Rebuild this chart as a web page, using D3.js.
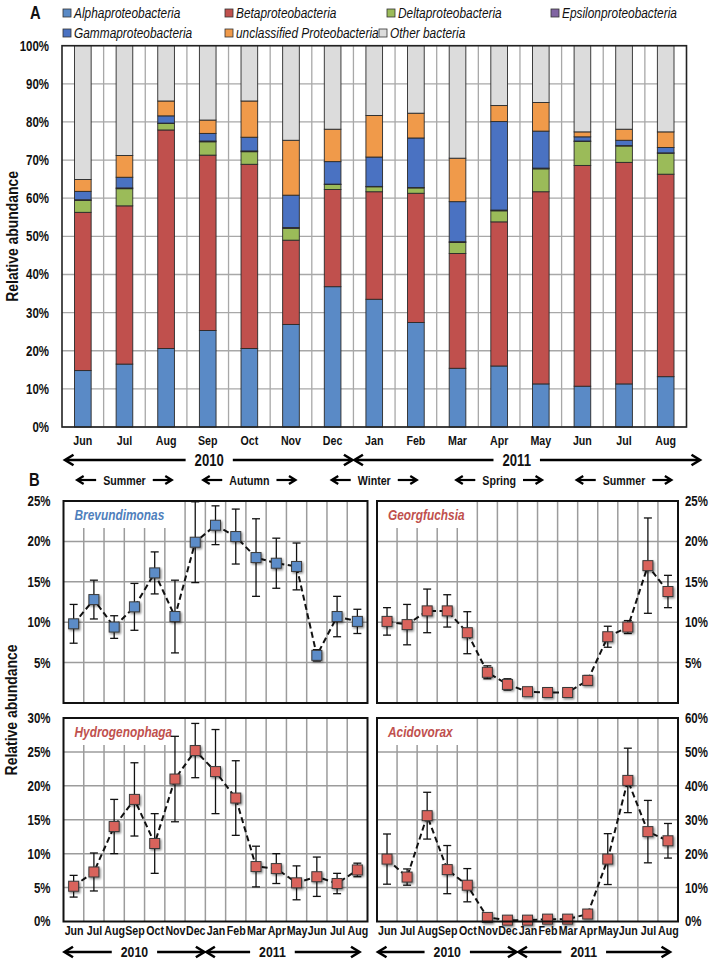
<!DOCTYPE html>
<html><head><meta charset="utf-8">
<script src="https://cdn.jsdelivr.net/npm/d3@7"></script>
<style>body{margin:0;background:#fff} svg{display:block}</style>
</head><body><svg id="c" width="716" height="962"></svg>
<script>
// ---------------- DATA ----------------
const months = ["Jun","Jul","Aug","Sep","Oct","Nov","Dec","Jan","Feb","Mar","Apr","May","Jun","Jul","Aug"];
const seriesNames = ["Alphaproteobacteria","Betaproteobacteria","Deltaproteobacteria","Epsilonproteobacteria","Gammaproteobacteria","unclassified Proteobacteria","Other bacteria"];
const seriesColors = ["#5a8ac6","#c0504d","#9bbb59","#8064a2","#4a72c2","#f09a4a","#dcdcdc"];
const alphaP   = [14.8,16.5,20.6,25.3,20.6,26.9,36.8,33.5,27.4,15.4,16.0,11.3,10.7,11.3,13.2];
const betaP    = [41.5,41.5,57.3,46.0,48.3,22.1,25.5,28.2,33.9,30.1,37.8,50.4,57.9,58.1,53.1];
const deltaP   = [3.1,4.5,1.7,3.5,3.3,3.1,1.3,1.3,1.4,2.9,2.9,6.0,6.3,4.3,5.5];
const epsilonP = [0.2,0.2,0.1,0.2,0.2,0.2,0.1,0.1,0.1,0.2,0.2,0.2,0.1,0.1,0.1];
const gammaP   = [2.2,2.8,1.9,2.0,3.6,8.5,5.9,7.7,13.0,10.5,23.2,9.7,1.1,1.4,1.4];
const unclP    = [3.1,5.7,3.9,3.5,9.5,14.4,8.5,10.9,6.5,11.4,4.2,7.5,1.3,2.9,4.1];
const otherP   = [35.1,28.8,14.5,19.5,14.5,24.8,21.9,18.3,17.7,29.5,15.7,14.9,22.6,21.9,22.6];
const tickValsA   = [0,10,20,30,40,50,60,70,80,90,100];
const tickLabelsA = ["0%","10%","20%","30%","40%","50%","60%","70%","80%","90%","100%"];
const yearsA = ["2010","2011"];
const seasons = ["Summer","Autumn","Winter","Spring","Summer"];

const brevMean  = [9.8,12.8,9.4,11.9,16.1,10.7,19.9,22.0,20.6,18.0,17.3,16.9,5.9,10.7,10.1];
const brevSd    = [2.4,2.4,1.4,2.9,2.6,4.5,5.0,2.4,3.4,4.8,3.1,2.9,0.7,2.5,1.5];
const georgMean = [10.1,9.7,11.4,11.4,8.7,3.8,2.3,1.4,1.3,1.3,2.8,8.2,9.4,17.0,13.8];
const georgSd   = [1.7,2.5,2.7,2.0,2.6,0.8,0.7,0.3,0.3,0.3,0.6,1.3,0.8,5.9,2.0];
const hydroMean = [5.2,7.3,14.0,18.0,11.5,21.0,25.2,22.1,18.2,8.1,7.8,5.7,6.6,5.6,7.6];
const hydroSd   = [1.6,2.8,4.0,5.4,4.4,6.3,4.0,6.2,5.5,3.0,2.2,2.5,2.9,1.5,1.0];
const acidoMean = [18.4,13.1,31.2,15.3,10.7,1.2,0.4,0.4,0.7,0.7,2.2,18.4,41.6,26.5,23.8];
const acidoSd   = [7.4,2.4,6.9,7.1,4.9,0.5,0.2,0.2,0.3,0.3,1.2,7.5,9.5,9.2,5.1];
const ticksTop  = [5,10,15,20,25];
const ticksHydro= [0,5,10,15,20,25,30];
const ticksAcido= [0,10,20,30,40,50,60];

// ---------------- SETUP ----------------
const FONT = "'Liberation Sans',Arial,sans-serif";
const K = 0.82; // horizontal condensing to mimic Arial Narrow
const svg = d3.select("#c").style("font-family", FONT);
const defs = svg.append("defs");
const flt = defs.append("filter").attr("id","sh").attr("x","-60%").attr("y","-60%").attr("width","220%").attr("height","220%");
flt.append("feDropShadow").attr("dx",1.2).attr("dy",1.4).attr("stdDeviation",0.9).attr("flood-color","#000").attr("flood-opacity",0.5);

function condense(sel){
  sel.each(function(){
    const t = d3.select(this);
    const x = parseFloat(t.attr("x")) || 0, y = parseFloat(t.attr("y")) || 0;
    const prev = t.attr("transform") || "";
    t.attr("transform", `${prev} translate(${x},${y}) scale(${K},1) translate(${-x},${-y})`);
  });
}
function txt(g, x, y, s, fs, opts={}){
  const t = g.append("text").attr("x",x).attr("y",y).attr("dy",opts.dy||"0.36em")
    .attr("text-anchor",opts.anchor||"start").attr("font-size",fs)
    .attr("font-weight",opts.weight||"bold").attr("font-style",opts.style||"normal")
    .attr("fill",opts.fill||"#111").text(s);
  condense(t);
  return t;
}
function arrowHead(g, x, y, dir, size, sw){
  g.append("path").attr("d",`M${x+dir*size},${y-size*0.62} L${x},${y} L${x+dir*size},${y+size*0.62}`)
   .attr("fill","none").attr("stroke","#000").attr("stroke-width",sw).attr("stroke-linejoin","miter");
}
function yearArrow(g, xa, xb, y, label, tx, fs){
  const t = txt(g, tx, y, label, fs, {anchor:"middle"});
  const w = t.node().getComputedTextLength()*K;
  const gap = 9;
  g.append("line").attr("x1",xa+1).attr("x2",tx-w/2-gap).attr("y1",y).attr("y2",y).attr("stroke","#000").attr("stroke-width",2.4);
  g.append("line").attr("x1",tx+w/2+gap).attr("x2",xb-1).attr("y1",y).attr("y2",y).attr("stroke","#000").attr("stroke-width",2.4);
  arrowHead(g, xa, y, 1, 8.5, 2.6);
  arrowHead(g, xb, y, -1, 8.5, 2.6);
}

// ---------------- PANEL A ----------------
const A = {x0:62, x1:686.5, y0:45.7, y1:427};
const xA = d3.scaleBand().domain(d3.range(months.length)).range([A.x0,A.x1]).paddingInner(0.6).paddingOuter(0.3);
const yA = d3.scaleLinear().domain([0,100]).range([A.y1,A.y0]);
const gA = svg.append("g");
gA.append("rect").attr("x",A.x0).attr("y",A.y0).attr("width",A.x1-A.x0).attr("height",A.y1-A.y0).attr("fill","#fff");
gA.selectAll("line.h").data(tickValsA).join("line")
  .attr("x1",A.x0).attr("x2",A.x1).attr("y1",d=>yA(d)).attr("y2",d=>yA(d))
  .attr("stroke","#a8a8a8").attr("stroke-width",1.3);
const stepA = xA.step();
gA.selectAll("line.v").data(d3.range(1,months.length)).join("line")
  .attr("x1",i=>xA(i)-stepA*0.3).attr("x2",i=>xA(i)-stepA*0.3).attr("y1",A.y0).attr("y2",A.y1)
  .attr("stroke","#a8a8a8").attr("stroke-width",1.3);

const seriesArrays = [alphaP,betaP,deltaP,epsilonP,gammaP,unclP,otherP];
const rows = months.map((m,i)=>{ const r={idx:i}; seriesNames.forEach((s,k)=> r[s]=seriesArrays[k][i]); return r; });
const stacked = d3.stack().keys(seriesNames)(rows);
gA.selectAll("g.layer").data(stacked).join("g").attr("fill",(d,k)=>seriesColors[k])
  .selectAll("rect").data(d=>d).join("rect")
  .attr("x",d=>xA(d.data.idx)).attr("width",xA.bandwidth())
  .attr("y",d=>yA(d[1])).attr("height",d=>yA(d[0])-yA(d[1]))
  .attr("stroke","#2a2a2a").attr("stroke-width",0.9);
gA.append("rect").attr("x",A.x0).attr("y",A.y0).attr("width",A.x1-A.x0).attr("height",A.y1-A.y0)
  .attr("fill","none").attr("stroke","#222").attr("stroke-width",1.6);

const axL = gA.append("g").attr("transform",`translate(${A.x0},0)`)
  .call(d3.axisLeft(yA).tickValues(tickValsA).tickFormat((d,i)=>tickLabelsA[i]).tickSize(0).tickPadding(13));
axL.select(".domain").remove();
axL.selectAll("text").attr("font-family",FONT).attr("font-size",14).attr("font-weight","bold").attr("fill","#111").call(condense);
const axB = gA.append("g").attr("transform",`translate(0,${A.y1})`)
  .call(d3.axisBottom(xA).tickFormat(i=>months[i]).tickSize(0).tickPadding(9));
axB.select(".domain").remove();
axB.selectAll("text").attr("font-family",FONT).attr("font-size",13).attr("font-weight","bold").attr("fill","#111").call(condense);

svg.append("text").attr("transform",`translate(18,${(A.y0+A.y1)/2}) rotate(-90) scale(${K},1)`).attr("text-anchor","middle")
  .attr("font-size",17).attr("font-weight","bold").attr("fill","#111").text("Relative abundance");

// year arrows panel A
const bnd = i => xA(i)-stepA*0.3;
yearArrow(svg.append("g"), 65, bnd(7)-1, 460, yearsA[0], (65+bnd(7))/2, 16);
yearArrow(svg.append("g"), bnd(7)+1, 700, 460, yearsA[1], (bnd(7)+700)/2-10, 16);

// seasons
const seasonCenters = [1,4,7,10,13];
seasons.forEach((s,k)=>{
  const g = svg.append("g");
  const cx = xA(seasonCenters[k]) + xA.bandwidth()/2;
  const t = txt(g, cx, 480, s, 13, {anchor:"middle"});
  const w = t.node().getComputedTextLength()*K;
  const gap = 7, len = 19;
  g.append("line").attr("x1",cx-w/2-gap-len+1).attr("x2",cx-w/2-gap).attr("y1",480).attr("y2",480).attr("stroke","#000").attr("stroke-width",2.2);
  arrowHead(g, cx-w/2-gap-len, 480, 1, 6.5, 2.3);
  g.append("line").attr("x1",cx+w/2+gap).attr("x2",cx+w/2+gap+len-1).attr("y1",480).attr("y2",480).attr("stroke","#000").attr("stroke-width",2.2);
  arrowHead(g, cx+w/2+gap+len, 480, -1, 6.5, 2.3);
});

// panel letters
txt(svg, 30, 13, "A", 18);
txt(svg, 29, 480, "B", 18);

// legend
const legPos = [[63,13],[225,13],[387,13],[551,13],[63,33],[225,33],[379,33]];
seriesNames.forEach((name,k)=>{
  const [lx,ly] = legPos[k];
  svg.append("rect").attr("x",lx).attr("y",ly-4).attr("width",8).attr("height",8).attr("fill",seriesColors[k]).attr("stroke","#333").attr("stroke-width",0.8);
  txt(svg, lx+11, ly, name, 14.5, {weight:"normal", style:"italic"});
});

// ---------------- PANEL B ----------------
function panel(o){
  const g = svg.append("g");
  const x = d3.scalePoint().domain(d3.range(months.length)).range([o.x0,o.x1]).padding(0.5);
  const step = x.step();
  const y = d3.scaleLinear().domain([0,o.max]).range([o.y1,o.y0]);
  g.append("rect").attr("x",o.x0).attr("y",o.y0).attr("width",o.x1-o.x0).attr("height",o.y1-o.y0).attr("fill","#fff");
  g.selectAll("line.h").data(o.grid).join("line").attr("x1",o.x0).attr("x2",o.x1).attr("y1",d=>y(d)).attr("y2",d=>y(d))
    .attr("stroke","#9c9c9c").attr("stroke-width",1.5);
  g.selectAll("line.v").data(d3.range(1,months.length)).join("line")
    .attr("x1",i=>x(i)-step/2).attr("x2",i=>x(i)-step/2).attr("y1",o.y0).attr("y2",o.y1)
    .attr("stroke","#9c9c9c").attr("stroke-width",1.5);
  const bg = g.append("rect");
  const lab = txt(g, o.x0+11, o.y0+14, o.label, 14.5, {style:"italic", fill:o.lcol});
  const lw = lab.node().getComputedTextLength()*K;
  bg.attr("x",o.x0+1).attr("y",o.y0+1).attr("width",lw+18).attr("height",26).attr("fill","#fff");
  g.append("path").datum(o.mean).attr("d",d3.line().x((d,i)=>x(i)).y(d=>y(d)))
    .attr("fill","none").attr("stroke","#111").attr("stroke-width",2).attr("stroke-dasharray","6,3.5");
  const eb = g.append("g").attr("stroke","#111").attr("stroke-width",1.3);
  o.mean.forEach((m,i)=>{
    const lo = y(Math.max(0,m-o.sd[i])), hi = y(m+o.sd[i]), cx = x(i);
    eb.append("line").attr("x1",cx).attr("x2",cx).attr("y1",lo).attr("y2",hi);
    eb.append("line").attr("x1",cx-4).attr("x2",cx+4).attr("y1",lo).attr("y2",lo);
    eb.append("line").attr("x1",cx-4).attr("x2",cx+4).attr("y1",hi).attr("y2",hi);
  });
  g.append("g").selectAll("rect").data(o.mean).join("rect")
    .attr("x",(d,i)=>x(i)-5).attr("y",d=>y(d)-5).attr("width",10).attr("height",10)
    .attr("fill",o.fill).attr("stroke","#3a3a3a").attr("stroke-width",1).attr("filter","url(#sh)");
  g.append("rect").attr("x",o.x0).attr("y",o.y0).attr("width",o.x1-o.x0).attr("height",o.y1-o.y0)
    .attr("fill","none").attr("stroke","#111").attr("stroke-width",2);
  const ax = g.append("g").attr("transform",`translate(${o.side==="left"?o.x0:o.x1},0)`)
    .call((o.side==="left"?d3.axisLeft(y):d3.axisRight(y)).tickValues(o.ticks).tickFormat(d=>d+"%").tickSize(0).tickPadding(o.side==="left"?13:7));
  ax.select(".domain").remove();
  ax.selectAll("text").attr("font-family",FONT).attr("font-size",14).attr("font-weight","bold").attr("fill","#111").call(condense);
  if(o.months){
    const axm = g.append("g").attr("transform",`translate(0,${o.y1})`)
      .call(d3.axisBottom(x).tickFormat(i=>months[i]).tickSize(0).tickPadding(4));
    axm.select(".domain").remove();
    axm.selectAll("text").attr("font-family",FONT).attr("font-size",13).attr("font-weight","bold").attr("fill","#111").call(condense);
    const b = i => x(i)-step/2;
    yearArrow(g, o.x0+1, b(7)-1, 952, yearsA[0], (o.x0+b(7))/2, 15);
    yearArrow(g, b(7)+1, o.x1-8, 952, yearsA[1], (b(7)+o.x1)/2-14, 15);
  }
  return g;
}
const LX0=63.5, LX1=367.5, RX0=377, RX1=678;
const TY0=501, TY1=703, BY0=718, BY1=921.5;
panel({x0:LX0,x1:LX1,y0:TY0,y1:TY1,max:25,grid:[5,10,15,20],ticks:ticksTop,side:"left",label:"Brevundimonas",lcol:"#4f7fbc",fill:"#5b8cc8",mean:brevMean,sd:brevSd,months:false});
panel({x0:RX0,x1:RX1,y0:TY0,y1:TY1,max:25,grid:[5,10,15,20],ticks:ticksTop,side:"right",label:"Georgfuchsia",lcol:"#c0504d",fill:"#d9635c",mean:georgMean,sd:georgSd,months:false});
panel({x0:LX0,x1:LX1,y0:BY0,y1:BY1,max:30,grid:[5,10,15,20,25],ticks:ticksHydro,side:"left",label:"Hydrogenophaga",lcol:"#c0504d",fill:"#d9635c",mean:hydroMean,sd:hydroSd,months:true});
panel({x0:RX0,x1:RX1,y0:BY0,y1:BY1,max:60,grid:[10,20,30,40,50],ticks:ticksAcido,side:"right",label:"Acidovorax",lcol:"#c0504d",fill:"#d9635c",mean:acidoMean,sd:acidoSd,months:true});

svg.append("text").attr("transform",`translate(17,710) rotate(-90) scale(${K},1)`).attr("text-anchor","middle")
  .attr("font-size",17).attr("font-weight","bold").attr("fill","#111").text("Relative abundance");
</script></body></html>
